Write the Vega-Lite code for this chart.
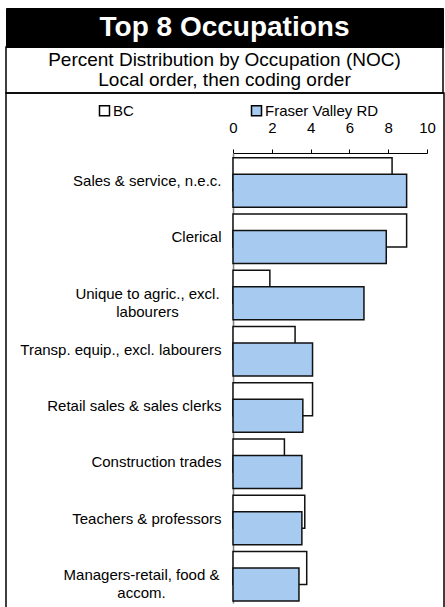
{
  "$schema": "https://vega.github.io/schema/vega-lite/v6.json",
  "background": "white",
  "padding": {"left": 5, "top": 7, "right": 0, "bottom": 0},
  "spacing": 0,
  "bounds": "flush",
  "config": {
    "font": "Liberation Sans",
    "view": {"stroke": "black", "strokeWidth": 1.5}
  },
  "vconcat": [
    {
      "width": 437,
      "height": 39,
      "view": {"fill": "black", "stroke": "black"},
      "data": {"values": [{"title": "Top 8 Occupations"}]},
      "mark": {"type": "text", "color": "white", "fontSize": 28, "fontWeight": "bold", "baseline": "middle", "align": "center"},
      "encoding": {"text": {"field": "title", "type": "nominal"}}
    },
    {
      "width": 437,
      "height": 46,
      "data": {"values": [
        {"line": 1, "text": "Percent Distribution by Occupation (NOC)"},
        {"line": 2, "text": "Local order, then coding order"}
      ]},
      "mark": {"type": "text", "fontSize": 19, "baseline": "middle", "align": "center", "color": "black"},
      "encoding": {
        "y": {"field": "line", "type": "ordinal", "axis": null, "scale": {"type": "point", "padding": 0.7}},
        "text": {"field": "text", "type": "nominal"}
      }
    },
    {
      "width": 438,
      "height": 520,
      "data": {"values": [
        {"occupation": "Sales & service, n.e.c.", "series": "BC", "percent": 8.2},
        {"occupation": "Clerical", "series": "BC", "percent": 8.95},
        {"occupation": "Unique to agric., excl.\nlabourers", "series": "BC", "percent": 1.9},
        {"occupation": "Transp. equip., excl. labourers", "series": "BC", "percent": 3.2},
        {"occupation": "Retail sales & sales clerks", "series": "BC", "percent": 4.1},
        {"occupation": "Construction trades", "series": "BC", "percent": 2.65},
        {"occupation": "Teachers & professors", "series": "BC", "percent": 3.7},
        {"occupation": "Managers-retail, food &\naccom.", "series": "BC", "percent": 3.8},
        {"occupation": "Sales & service, n.e.c.", "series": "Fraser Valley RD", "percent": 8.95},
        {"occupation": "Clerical", "series": "Fraser Valley RD", "percent": 7.9},
        {"occupation": "Unique to agric., excl.\nlabourers", "series": "Fraser Valley RD", "percent": 6.75},
        {"occupation": "Transp. equip., excl. labourers", "series": "Fraser Valley RD", "percent": 4.1},
        {"occupation": "Retail sales & sales clerks", "series": "Fraser Valley RD", "percent": 3.6},
        {"occupation": "Construction trades", "series": "Fraser Valley RD", "percent": 3.55},
        {"occupation": "Teachers & professors", "series": "Fraser Valley RD", "percent": 3.55},
        {"occupation": "Managers-retail, food &\naccom.", "series": "Fraser Valley RD", "percent": 3.4}
      ]},
      "mark": {"type": "bar", "height": 33, "stroke": "#111111", "strokeWidth": 1.5},
      "encoding": {
        "y": {
          "field": "occupation", "type": "nominal", "sort": null,
          "scale": {"type": "band", "range": [60, 510], "paddingInner": 0, "paddingOuter": 0},
          "axis": {
            "title": null, "orient": "left", "offset": -227, "ticks": false,
            "domainColor": "#808080", "domainWidth": 1.5,
            "labelFontSize": 15, "labelColor": "black",
            "labelLimit": 0, "labelLineHeight": 18,
            "labelExpr": "split(datum.label, '\\n')",
            "labelAlign": {"condition": {"test": "indexof(datum.value, '\\n') >= 0", "value": "center"}, "value": "right"},
            "labelPadding": {"condition": [
              {"test": "indexof(datum.value, 'Unique') >= 0", "value": 86},
              {"test": "indexof(datum.value, 'Managers') >= 0", "value": 92}
            ], "value": 12}
          }
        },
        "yOffset": {
          "field": "series", "type": "nominal", "sort": null,
          "scale": {"domain": ["BC", "Fraser Valley RD"], "paddingInner": 0, "paddingOuter": 0.7, "align": 0.56}
        },
        "x": {
          "field": "percent", "type": "quantitative",
          "scale": {"domain": [0, 10], "range": [227, 421], "nice": false},
          "axis": {
            "orient": "top", "offset": -60, "title": null,
            "values": [0, 2, 4, 6, 8, 10], "grid": false,
            "tickSize": 4, "tickColor": "black", "domainColor": "black",
            "labelFontSize": 15, "labelColor": "black", "labelPadding": 14, "labelFlush": false
          }
        },
        "color": {
          "field": "series", "type": "nominal",
          "scale": {"domain": ["BC", "Fraser Valley RD"], "range": ["white", "#A6CAF0"]},
          "legend": {
            "orient": "none", "legendX": 91, "legendY": 95, "direction": "horizontal",
            "title": null, "symbolType": "square", "symbolSize": 100,
            "symbolStrokeColor": "black", "symbolStrokeWidth": 1.5,
            "labelFontSize": 15, "labelColor": "black", "labelOffset": 1,
            "columnPadding": 114, "gridAlign": "each", "padding": 0
          }
        }
      }
    }
  ]
}
